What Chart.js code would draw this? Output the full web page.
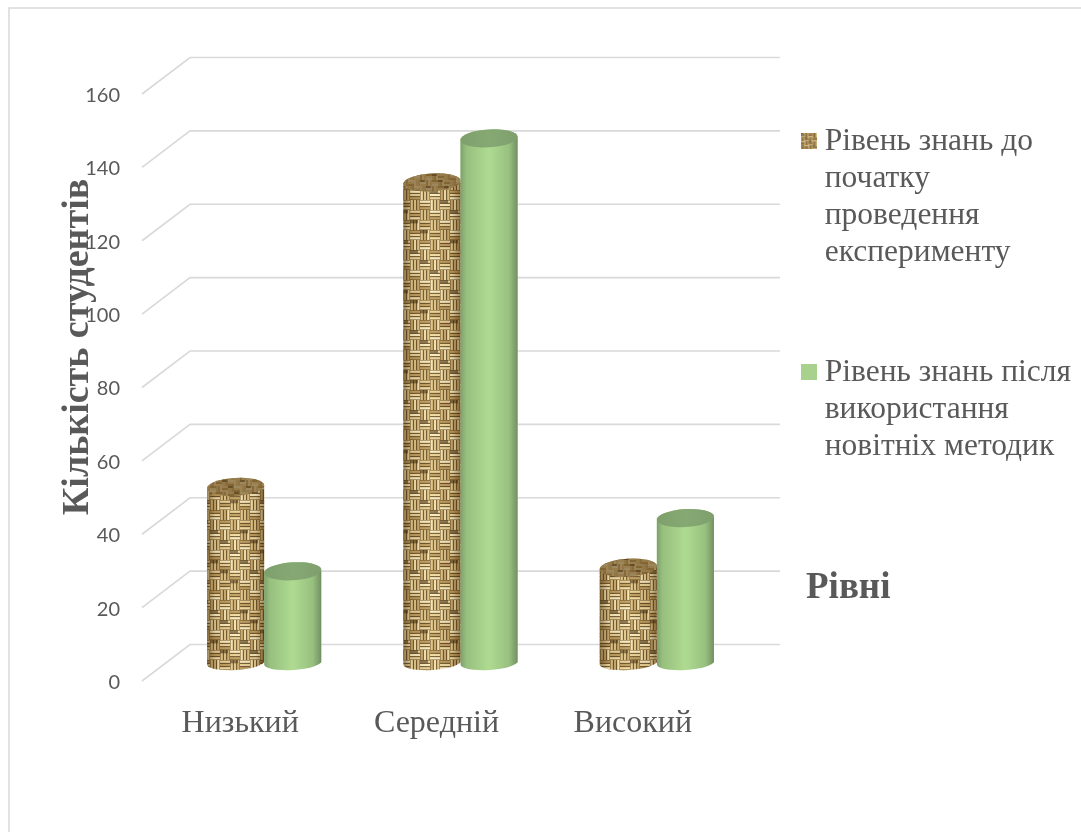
<!DOCTYPE html>
<html><head><meta charset="utf-8">
<style>html,body{margin:0;padding:0;background:#fff;overflow:hidden}canvas{display:block}</style>
<script src="https://cdn.jsdelivr.net/npm/chart.js@4"></script>
</head><body><canvas id="c" width="1081" height="832"></canvas>
<script>
const categories = ['Низький','Середній','Високий'];
const before = [48, 131, 26];
const after = [25, 143, 39.5];
const beforeLegend = ['Рівень знань до','початку','проведення','експерименту'];
const afterLegend = ['Рівень знань після','використання','новітніх методик'];
const yTitle = 'Кількість студентів';
const xTitle = 'Рівні';
const TXT = '#595959';
const SERIF = '"Liberation Serif"';

function weaveTile(cell,blur){
  const n = 8, size = n*cell, c = document.createElement('canvas');
  c.width = c.height = size;
  const g = c.getContext('2d');
  g.fillStyle = '#54391a'; g.fillRect(0,0,size,size);
  const tones = ['#f0dca2','#dcc284','#f9ecbe','#c9ab6c','#e8d196','#f5e4ae','#bd9d5e','#e2c98c'];
  const s = cell/3;
  for(let i=0;i<n;i++)for(let j=0;j<n;j++){
    for(let k=0;k<3;k++){
      g.fillStyle = tones[(i*3+j*5+k*2)%tones.length];
      if((i+j)%2===0) g.fillRect(i*cell,j*cell+k*s+s*0.14,cell,s*0.72);
      else g.fillRect(i*cell+k*s+s*0.14,j*cell,s*0.72,cell);
    }
    if((i*7+j*3)%5===0){ g.fillStyle='rgba(70,48,18,.6)'; g.fillRect(i*cell,j*cell,cell*0.8,s); }
  }
  const o = document.createElement('canvas'); o.width=o.height=size;
  const og = o.getContext('2d'); og.filter='blur('+blur+'px)';
  for(let a=-1;a<=1;a++)for(let b=-1;b<=1;b++) og.drawImage(c,a*size,b*size);
  return o;
}
const tile = weaveTile(10,0.7);
const tileSmall = weaveTile(6,0.6);

function swatch(fill){
  const c = document.createElement('canvas'); c.width=c.height=16;
  const g = c.getContext('2d');
  if(fill==='weave'){ g.drawImage(tile,0,0,40,40,0,0,16,16); g.fillStyle='rgba(150,110,50,.15)'; g.fillRect(0,0,16,16);}
  else { g.fillStyle=fill; g.fillRect(0,0,16,16); }
  return c;
}
const swatchA = swatch('weave'), swatchB = swatch('#a9d18e');

const DX = 24, DY = -18, RY = 9, TILT = -0.06;

const scene = {
  id:'scene',
  beforeDraw(chart){
    const ctx = chart.ctx;
    ctx.save(); ctx.strokeStyle='#d9d9d9'; ctx.lineWidth=1.5;
    ctx.strokeRect(9,8,1300,1300); ctx.restore();
    chart.legend.left = 725; chart.legend.top = 42.5;
    const y = chart.scales.y, a = chart.chartArea;
    ctx.save(); ctx.strokeStyle='#d9d9d9'; ctx.lineWidth=1.6;
    y.ticks.forEach(t=>{
      const py = y.getPixelForValue(t.value);
      ctx.beginPath(); ctx.moveTo(a.left,py); ctx.lineTo(a.left+48,py-36.5); ctx.lineTo(780,py-36.5); ctx.stroke();
    });
    ctx.restore();
  },
  beforeDatasetDraw(chart){ chart.ctx.save(); chart.ctx.translate(DX,DY); },
  afterDatasetDraw(chart){ chart.ctx.restore(); },
  afterDatasetsDraw(chart){
    const ctx = chart.ctx;
    chart.data.datasets.forEach((ds,i)=>{
      chart.getDatasetMeta(i).data.forEach(el=>{
        const p = el.getProps(['x','y','base','width'],true);
        const l = p.x-p.width/2+DX, r = p.x+p.width/2+DX, cx=(l+r)/2, rx=(r-l)/2;
        const top = p.y+DY, bot = p.base+DY;
        const path = new Path2D();
        path.ellipse(cx,bot,rx,RY-2,TILT,Math.PI,0,true);
        path.ellipse(cx,top,rx,RY,TILT,0,Math.PI,true);
        path.closePath();
        const g = ctx.createLinearGradient(l,0,r,0);
        ctx.save();
        if(i===0){
          ctx.fillStyle = ctx.createPattern(tile,'repeat'); ctx.fill(path);
          g.addColorStop(0,'rgba(70,45,10,.5)'); g.addColorStop(.15,'rgba(70,45,10,.1)');
          g.addColorStop(.5,'rgba(255,240,190,.1)'); g.addColorStop(.85,'rgba(70,45,10,.1)');
          g.addColorStop(1,'rgba(70,45,10,.5)');
          ctx.fillStyle=g; ctx.fill(path);
        } else {
          g.addColorStop(0,'#7f9f6d'); g.addColorStop(.1,'#97bf7e'); g.addColorStop(.5,'#aedb91');
          g.addColorStop(.85,'#98c080'); g.addColorStop(.97,'#7b9a68'); g.addColorStop(1,'#6f8d5e');
          ctx.fillStyle=g; ctx.fill(path);
        }
        const cap = new Path2D(); cap.ellipse(cx,top,rx,RY,TILT,0,Math.PI*2);
        if(i===0){
          ctx.fillStyle = ctx.createPattern(tileSmall,'repeat'); ctx.fill(cap);
          ctx.fillStyle='rgba(90,60,20,.4)'; ctx.fill(cap);
        } else {
          const cg = ctx.createLinearGradient(l,0,r,0);
          cg.addColorStop(0,'#7e9f6b'); cg.addColorStop(.5,'#86a974'); cg.addColorStop(1,'#7f9f6d');
          ctx.fillStyle=cg; ctx.fill(cap);
        }
        ctx.restore();
      });
    });
  },
  afterDraw(chart){
    const ctx = chart.ctx;
    ctx.save(); ctx.fillStyle=TXT; ctx.textBaseline='alphabetic';
    ctx.font='bold 37px '+SERIF; ctx.textAlign='left';
    ctx.fillText(xTitle,806,598);
    ctx.translate(88,347); ctx.rotate(-Math.PI/2); ctx.textAlign='center';
    ctx.font='bold 38px '+SERIF;
    ctx.fillText(yTitle,0,0);
    ctx.restore();
  }
};

new Chart(document.getElementById('c'),{
  type:'bar',
  data:{labels:categories,datasets:[
    {label:beforeLegend.join(' '),data:before,backgroundColor:'#d6bc80',categoryPercentage:114/196,barPercentage:1},
    {label:afterLegend.join(' '),data:after,backgroundColor:'#a5cf88',categoryPercentage:114/196,barPercentage:1}
  ]},
  plugins:[scene],
  options:{
    responsive:false,animation:false,
    layout:{padding:{top:94,left:0,right:0,bottom:0}},
    plugins:{
      tooltip:{enabled:false},
      legend:{
        position:'right',align:'start',maxWidth:350,
        labels:{
          usePointStyle:true,pointStyleWidth:1,boxHeight:14,padding:83,color:TXT,
          font:{family:SERIF,size:31.5,lineHeight:'37px'},
          generateLabels(){
            return [
              {text:beforeLegend,fillStyle:'#d6bc80',pointStyle:swatchA,fontColor:TXT,lineWidth:0,strokeStyle:'transparent',datasetIndex:0},
              {text:afterLegend,fillStyle:'#a9d18e',pointStyle:swatchB,fontColor:TXT,lineWidth:0,strokeStyle:'transparent',datasetIndex:1}
            ];
          }
        }
      }
    },
    scales:{
      x:{
        grid:{display:false,drawTicks:false},border:{display:false},
        afterFit(s){s.height=151;},
        ticks:{color:TXT,padding:23,font:{family:SERIF,size:32},maxRotation:0}
      },
      y:{
        min:0,max:160,
        grid:{display:false,drawTicks:false},border:{display:false},
        afterFit(s){s.width=142;},
        ticks:{stepSize:20,color:TXT,padding:22,labelOffset:1.5,font:{family:'Lato',size:20}}
      }
    }
  }
});
</script></body></html>
